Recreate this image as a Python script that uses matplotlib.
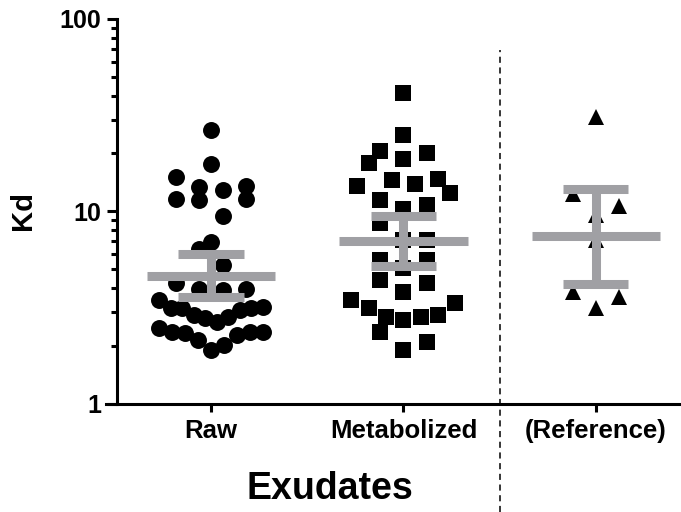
import numpy as np
import matplotlib
matplotlib.use("Agg")
import matplotlib.pyplot as plt
from matplotlib.ticker import FixedLocator, FixedFormatter, LogLocator, NullFormatter
from matplotlib.transforms import blended_transform_factory

plt.rcParams['font.family'] = ['Liberation Sans', 'DejaVu Sans']
plt.rcParams['font.weight'] = 'bold'

# ---- data -------------------------------------------------------------
categories = ["Raw", "Metabolized", "(Reference)"]

raw_kd = [26.4, 17.7, 15.1, 13.6, 11.6, 12.9, 11.4, 13.4, 11.6, 9.42,
          6.93, 6.40, 5.24, 4.21, 3.96, 3.89, 3.96, 3.45, 3.12, 3.06,
          3.18, 3.12, 3.12, 2.82, 2.66, 2.77, 2.88, 2.46, 2.36, 2.32,
          2.14, 2.27, 2.36, 2.36, 1.90, 2.01]

metabolized_kd = [41.2, 25.0, 20.6, 20.2, 18.6, 17.8, 14.7, 14.5, 13.8, 13.5,
                  12.5, 11.4, 10.8, 10.3, 8.64, 7.07, 7.07, 5.56, 5.56, 5.04,
                  4.38, 4.21, 3.81, 3.32, 3.45, 2.88, 2.82, 2.71, 2.82, 3.12,
                  2.36, 2.09, 1.90]

reference_kd = [30.9, 12.3, 10.6, 9.53, 7.07, 3.81, 3.59, 3.12]

# geometric mean with 95% CI per group
group_center = [4.63, 6.98, 7.41]
group_lower = [3.59, 5.20, 4.16]
group_upper = [5.96, 9.42, 13.1]

# ---- figure -----------------------------------------------------------
W, H = 681, 512
fig = plt.figure(figsize=(W / 100, H / 100), dpi=100)
ax_left_px, ax_bottom_px, ax_top_px = 105.5, 403.5, 19.0
ax = fig.add_axes([ax_left_px / W, 1 - ax_bottom_px / H,
                   1 - ax_left_px / W, (ax_bottom_px - ax_top_px) / H])
ax.set_yscale('log')
ax.set_ylim(1, 100)
ax.set_xlim(-0.548, 2.442)

spine_w = 2.2
for side in ('top', 'right'):
    ax.spines[side].set_visible(False)
for side in ('left', 'bottom'):
    ax.spines[side].set_linewidth(spine_w)
ax.spines['left'].set_position(('data', -0.488))

# y axis ticks
ax.yaxis.set_major_locator(FixedLocator([1, 10, 100]))
ax.yaxis.set_major_formatter(FixedFormatter(['1', '10', '100']))
ax.yaxis.set_minor_locator(LogLocator(base=10, subs=np.arange(2, 10)))
ax.yaxis.set_minor_formatter(NullFormatter())
ax.tick_params(axis='y', which='major', length=7.5, width=spine_w,
               labelsize=18, pad=4)
ax.tick_params(axis='y', which='minor', length=4.2, width=spine_w)

# x axis ticks
ax.set_xticks(range(len(categories)))
ax.set_xticklabels(categories)
ax.tick_params(axis='x', which='major', length=6, width=spine_w,
               labelsize=18.5, pad=5)
ax.tick_params(axis='x', which='minor', length=0)


def row_scatter_offsets(values, spacing_px, row_px, max_span_px):
    """Group points into horizontal rows (by screen height) and spread each
    row symmetrically; wide rows are squeezed to max_span_px and the lowest
    values of a row sit in the middle."""
    vals = np.asarray(values, float)
    ys = ax.transData.transform(np.column_stack([np.zeros(len(vals)), vals]))[:, 1]
    order = list(np.argsort(ys, kind='stable'))
    offs = np.zeros(len(vals))
    rows, current, start = [], [], None
    for i in order:
        if start is None or ys[i] - start > row_px:
            if current:
                rows.append(current)
            current, start = [i], ys[i]
        else:
            current.append(i)
    if current:
        rows.append(current)
    for row in rows:
        n = len(row)
        sp = spacing_px if n < 2 else min(spacing_px, max_span_px / (n - 1))
        slots = [(k - (n - 1) / 2.0) * sp for k in range(n)]
        slots.sort(key=lambda s: (round(abs(s), 6), -s))
        for idx, s in zip(row, slots):
            offs[idx] = s
    return offs


px_per_unit = (ax.transData.transform((1, 1))[0]
               - ax.transData.transform((0, 1))[0])

groups = [(raw_kd, 'o', 12.2),
          (metabolized_kd, 's', 11.5),
          (reference_kd, '^', 11.5)]

for xi, (vals, marker, msize) in enumerate(groups):
    offs = row_scatter_offsets(vals, 23.3, 23.3, 104.0) / px_per_unit
    ax.plot(xi + offs, vals, linestyle='none', marker=marker,
            markersize=msize, markerfacecolor='black',
            markeredgecolor='black', markeredgewidth=0, zorder=3,
            clip_on=False)

# mean and CI bars
bar_color = '#A0A0A4'
bar_lw = 6.5
mean_half, cap_half = 0.333, 0.169
for xi in range(len(categories)):
    ax.hlines(group_center[xi], xi - mean_half, xi + mean_half,
              color=bar_color, lw=bar_lw, zorder=4, capstyle='butt')
    ax.vlines(xi, group_lower[xi], group_upper[xi],
              color=bar_color, lw=bar_lw, zorder=4, capstyle='butt')
    for v in (group_lower[xi], group_upper[xi]):
        ax.hlines(v, xi - cap_half, xi + cap_half,
                  color=bar_color, lw=bar_lw, zorder=4, capstyle='butt')

# dashed separator before the reference group, running down past the axis
trans = blended_transform_factory(ax.transData, fig.transFigure)
ax.plot([1.5, 1.5], [0.0, 1 - 50 / H], transform=trans, color='black',
        lw=1.1, dashes=(4, 3), clip_on=False, zorder=2)

# axis titles
fig.text(23 / W, 1 - 210 / H, 'Kd', rotation=90, fontsize=21,
         fontweight='bold', ha='center', va='center')
fig.text(330 / W, 1 - 499 / H, 'Exudates', fontsize=27,
         fontweight='bold', ha='center', va='baseline')

fig.savefig('out.png', dpi=100)
